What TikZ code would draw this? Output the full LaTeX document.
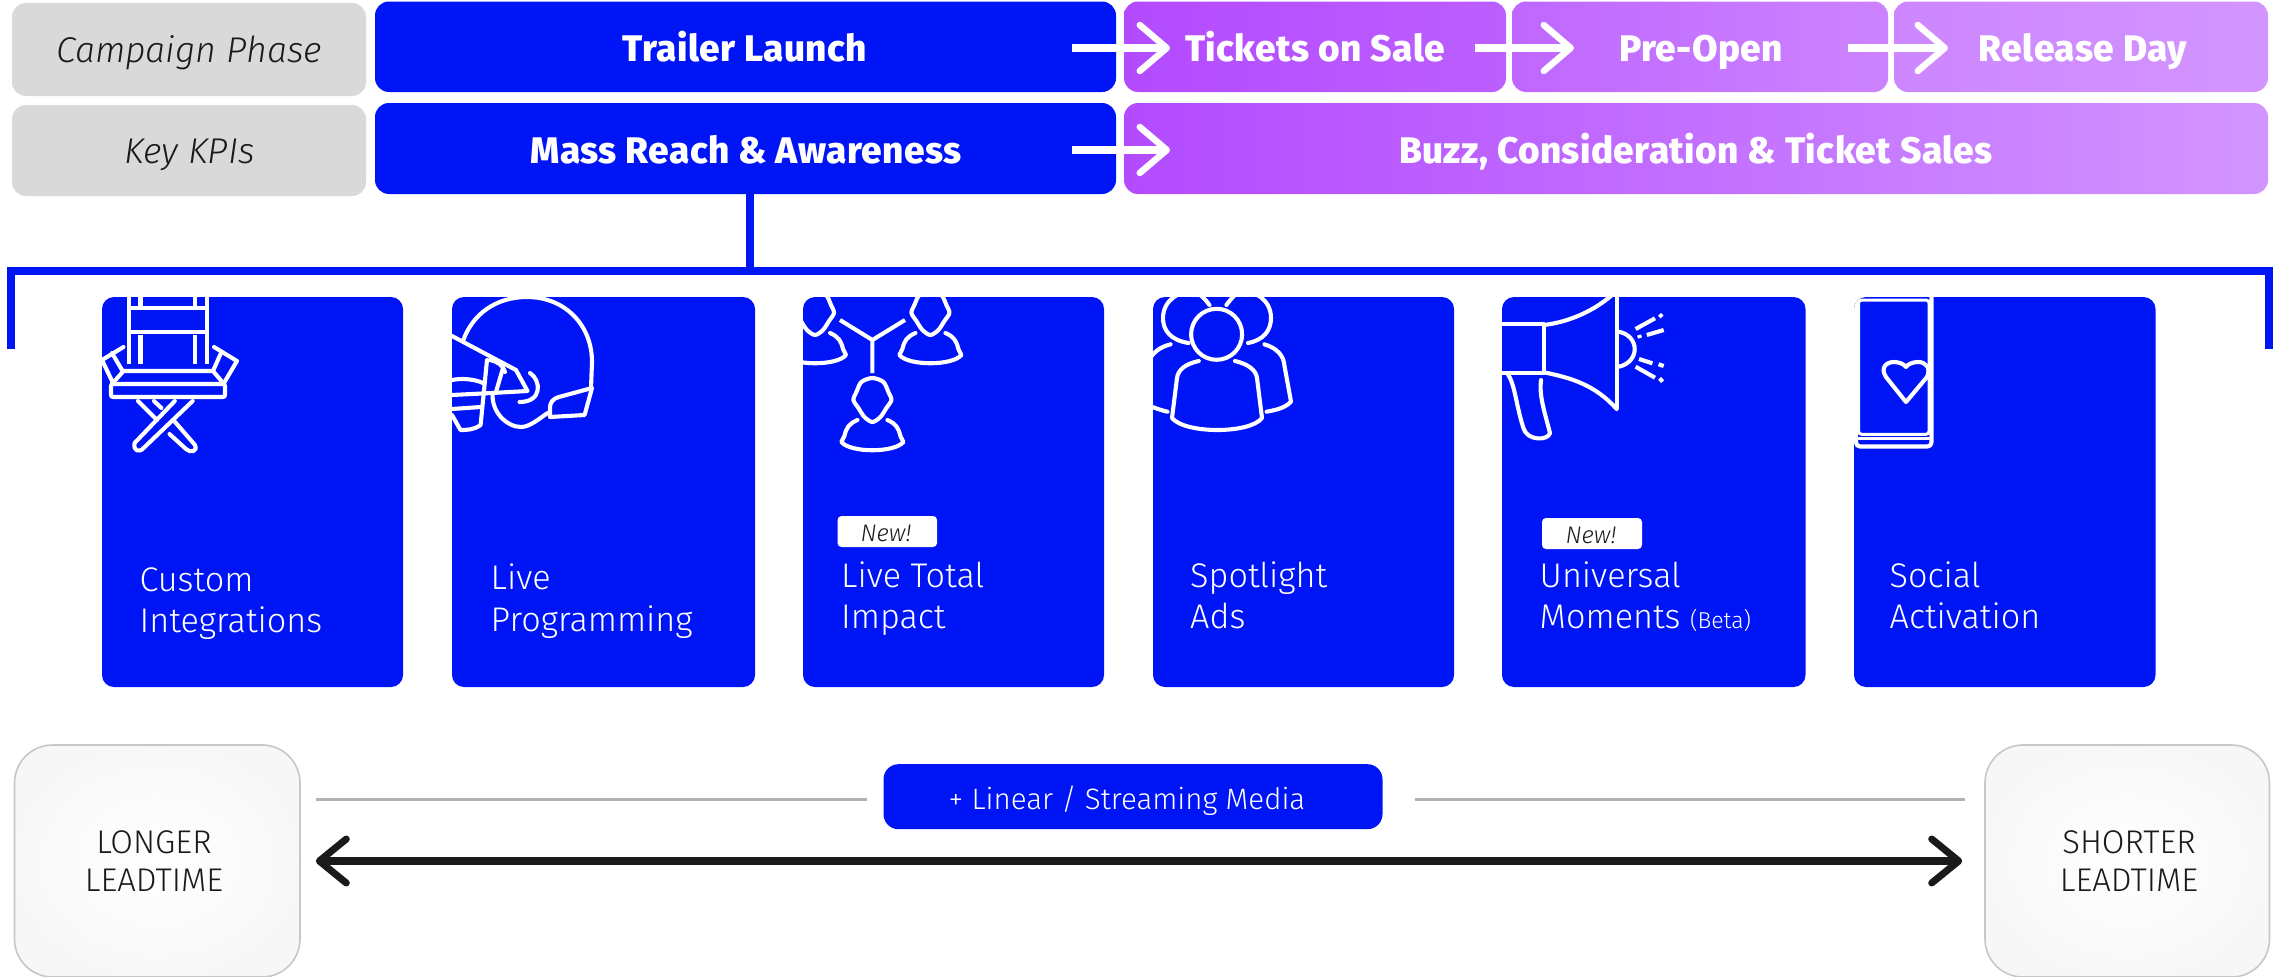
\documentclass[tikz,border=0pt]{standalone}
\usepackage{fontspec}
\usetikzlibrary{arrows.meta,calc}
\setmainfont{Fira Sans}
\newfontfamily\lightf{Fira Sans Light}[ItalicFont=Fira Sans Light Italic]
\newfontfamily\boldf{Fira Sans ExtraBold}[LetterSpace=1.2]
\definecolor{brandblue}{HTML}{0015F5}
\definecolor{labelgray}{HTML}{D9D9D9}
\definecolor{inkblack}{HTML}{1A1A1A}
\definecolor{purpleA}{HTML}{B34AFF}
\definecolor{purpleB}{HTML}{BC5FFF}
\definecolor{purpleC}{HTML}{BF67FF}
\definecolor{purpleD}{HTML}{CC83FF}
\definecolor{purpleE}{HTML}{CD86FF}
\definecolor{purpleF}{HTML}{D295FF}
\tikzset{
  x=1pt,y=-1pt,
  labelbox/.style={fill=labelgray,rounded corners=14pt,inner sep=0pt},
  bluebox/.style={fill=brandblue,rounded corners=14pt,inner sep=0pt},
  purplebox/.style={rounded corners=14pt,inner sep=0pt},
  cardbox/.style={fill=brandblue,rounded corners=12pt,inner sep=0pt},
  headtext/.style={text=white,inner sep=0pt,anchor=base,font=\boldf\fontsize{37}{42}\selectfont},
  labeltext/.style={text=inkblack,inner sep=0pt,anchor=base,font=\lightf\itshape\fontsize{35.8}{42}\selectfont},
  cardtext/.style={text=white,inner sep=0pt,anchor=base west,font=\lightf\fontsize{34.2}{41}\selectfont},
  newtag/.style={fill=white,rounded corners=4pt,inner sep=0pt},
  newtext/.style={text=inkblack,inner sep=0pt,anchor=base,font=\lightf\itshape\fontsize{24}{28}\selectfont},
  whitearrow/.style={draw=white,line width=8pt,-{Straight Barb[length=27pt,width=46pt,line width=6.5pt,round]}},
  blackarrow/.style={draw=inkblack,line width=8pt,{Straight Barb[length=27pt,width=44pt,line width=7pt,round]}-{Straight Barb[length=27pt,width=44pt,line width=7pt,round]}},
  stemline/.style={draw=brandblue,line width=8pt},
  grayline/.style={draw=black!30,line width=2.5pt},
  leadbox/.style={draw=black!22,line width=1.6pt,inner color=white,outer color=black!3,rounded corners=38pt,inner sep=0pt},
  leadtext/.style={text=inkblack,inner sep=0pt,anchor=base,font=\lightf\fontsize{32.8}{38}\selectfont},
  icon/.style={draw=white,line width=4.1pt,line join=round,line cap=round},
  person/.pic={
    \draw[icon] plot[smooth cycle] coordinates {(0,-22)(11,-18)(16,-8)(19,0)(14,8)(8,17)(0,22)(-8,17)(-14,8)(-19,0)(-16,-8)(-11,-18)};
    \draw[icon] (-15,20) .. controls (-24,24) and (-26,28) .. (-28,36) -- (-31,42) .. controls (-22,53) and (22,53) .. (31,42) -- (28,36) .. controls (26,28) and (24,24) .. (15,20);
  },
}
\begin{document}
\begin{tikzpicture}
\useasboundingbox (0,0) rectangle (2279,977);

% header boxes
\node[labelbox,minimum width=354pt,minimum height=93pt] (phaselabel) at (189,49.5) {};
\node[labelbox,minimum width=354pt,minimum height=91pt] (kpilabel) at (189,150.5) {};
\node[bluebox,minimum width=741pt,minimum height=90.5pt] (trailer) at (745.5,46.75) {};
\node[bluebox,minimum width=741pt,minimum height=91pt] (mass) at (745.5,148.5) {};
\node[purplebox,left color=purpleA,right color=purpleB,minimum width=382pt,minimum height=90.5pt] (tickets) at (1315,46.75) {};
\node[purplebox,left color=purpleC,right color=purpleD,minimum width=376pt,minimum height=90.5pt] (preopen) at (1700,46.75) {};
\node[purplebox,left color=purpleE,right color=purpleF,minimum width=374pt,minimum height=90.5pt] (release) at (2081,46.75) {};
\node[purplebox,left color=purpleA,right color=purpleF,minimum width=1144pt,minimum height=91pt] (buzz) at (1696,148.5) {};

\node[labeltext] (phasetext) at (189,62) {Campaign Phase};
\node[labeltext] (kpitext) at (189.5,163) {Key KPIs};
\node[headtext] (trailertext) at (745,61.5) {Trailer Launch};
\node[headtext] (masstext) at (746,163.5) {Mass Reach \& Awareness};
\node[headtext] (ticketstext) at (1315,61.5) {Tickets on Sale};
\node[headtext] (preopentext) at (1701,61.5) {Pre-Open};
\node[headtext] (releasetext) at (2083,61.5) {Release Day};
\node[headtext] (buzztext) at (1696,163.5) {Buzz, Consideration \& Ticket Sales};

% white arrows
\coordinate (a1s) at (1072,48); \coordinate (a1e) at (1170,48);
\coordinate (a2s) at (1475,48); \coordinate (a2e) at (1574,48);
\coordinate (a3s) at (1848,48); \coordinate (a3e) at (1948,48);
\coordinate (a4s) at (1072,150); \coordinate (a4e) at (1170,150);
\draw[whitearrow] (a1s) -- (a1e);
\draw[whitearrow] (a2s) -- (a2e);
\draw[whitearrow] (a3s) -- (a3e);
\draw[whitearrow] (a4s) -- (a4e);

% bracket
\coordinate (brL) at (11,349); \coordinate (brLt) at (11,271);
\coordinate (brR) at (2269,349); \coordinate (brRt) at (2269,271);
\coordinate (stemtop) at (750,194); \coordinate (stembot) at (750,271);
\draw[stemline] (stemtop) -- (stembot);
\draw[stemline,line join=miter] (brL) -- (brLt) -- (brRt) -- (brR);

% cards
\node[cardbox,minimum width=301pt,minimum height=390pt] (card1) at (252.5,492) {};
\node[cardbox,minimum width=303pt,minimum height=390pt] (card2) at (603.5,492) {};
\node[cardbox,minimum width=301pt,minimum height=390pt] (card3) at (953.5,492) {};
\node[cardbox,minimum width=301pt,minimum height=390pt] (card4) at (1303.5,492) {};
\node[cardbox,minimum width=303.5pt,minimum height=390pt] (card5) at (1653.75,492) {};
\node[cardbox,minimum width=301.5pt,minimum height=390pt] (card6) at (2004.75,492) {};

\node[cardtext] (t1a) at (139.5,591) {Custom};
\node[cardtext] (t1b) at (139.5,632) {Integrations};
\node[cardtext] (t2a) at (490.5,589) {Live};
\node[cardtext] (t2b) at (490.5,631) {Programming};
\node[cardtext] (t3a) at (841,587) {Live Total};
\node[cardtext] (t3b) at (841,628) {Impact};
\node[cardtext] (t4a) at (1190,587) {Spotlight};
\node[cardtext] (t4b) at (1190,628) {Ads};
\node[cardtext] (t5a) at (1539.5,587) {Universal};
\node[cardtext] (t5b) at (1539.5,628) {Moments {\fontsize{23}{26}\selectfont(Beta)}};
\node[cardtext] (t6a) at (1889.5,587) {Social};
\node[cardtext] (t6b) at (1889.5,628) {Activation};

\node[newtag,minimum width=99.5pt,minimum height=31pt] (new3) at (887.3,531.5) {};
\node[newtext] (new3t) at (886,541.7) {New!};
\node[newtag,minimum width=100pt,minimum height=31pt] (new5) at (1592,533.5) {};
\node[newtext] (new5t) at (1591,543) {New!};

% icon 1: director chair
\begin{scope}
\clip[rounded corners=12pt] (102,297) rectangle (403,687);
\draw[icon,line cap=butt] (129,297) -- (129,364) (207,297) -- (207,364);
\draw[icon,line cap=butt] (140.5,297) -- (140.5,308) (140.5,335) -- (140.5,364) (195,297) -- (195,308) (195,335) -- (195,364);
\draw[icon,line cap=butt] (129,308) -- (207,308) (129,332) -- (207,332);
\draw[icon] (112,384) -- (123.5,371) -- (213,371) -- (224,384);
\draw[icon,rounded corners=2pt] (111,384) rectangle (225,397);
\draw[icon] (123.5,347) -- (102,360) -- (113,383);
\draw[icon] (112,353) -- (122.6,371);
\draw[icon] (214,347) -- (237,361) -- (224,383);
\draw[icon] (221,353) -- (213,371);
\draw[icon] (192.7,401) -- (143.6,448) .. controls (139,453) and (133,451) .. (134.6,443) -- (174.8,401);
\draw[icon] (138,401) -- (157,420);
\draw[icon] (154,401) -- (161.4,408);
\draw[icon] (174.8,421.7) -- (195,445) .. controls (198,452) and (190,453) .. (186,449) -- (169.5,434);
\end{scope}

% icon 2: helmet
\begin{scope}
\clip[rounded corners=12pt] (452,297) rectangle (755,687);
\draw[icon] (463,341) .. controls (472,315) and (495,297) .. (527,297) .. controls (565,297) and (592,325) .. (592,362) -- (591,388);
\draw[icon] (452,336) -- (516,370) -- (527.5,391) -- (492,393) -- (452,395);
\draw[icon] (452,380) .. controls (462,378) and (474,379) .. (483,383);
\draw[icon] (452,409) -- (480.6,407);
\draw[icon] (487,360) -- (480.6,425) .. controls (474,430) and (466,430) .. (460.5,430) -- (452,415);
\draw[icon] (503,368) -- (496,392);
\draw[icon] (490,360) .. controls (498,362) and (503,365) .. (505,372);
\draw[icon] (530,373) .. controls (541,380) and (543,402) .. (519.5,402);
\draw[icon] (492.7,393) .. controls (491,412) and (507,427) .. (521,427) .. controls (530,427) and (540,418) .. (547.6,413);
\draw[icon] (592,388) -- (559,397) .. controls (552,399) and (550,403) .. (550,408) -- (550,417) -- (584.6,415) -- cycle;
\end{scope}

% icon 3: connected people
\begin{scope}
\clip[rounded corners=12pt] (803,297) rectangle (1104,687);
\pic at (815,313) {person};
\pic at (930.4,313) {person};
\pic at (872.4,400) {person};
\draw[icon,line cap=butt] (840,320) -- (872.4,340) -- (905,320) (872.4,340) -- (872.4,373);
\end{scope}

% icon 4: audience
\begin{scope}
\clip[rounded corners=12pt] (1153,297) rectangle (1454,687);
\draw[icon] (1216.6,334.3) circle[radius=25.5];
\draw[icon] (1198.8,361) .. controls (1185,364) and (1178,370) .. (1177,378) -- (1172,418) .. controls (1185,434) and (1250,434) .. (1262,418) -- (1257,378) .. controls (1256,370) and (1248,364) .. (1235,361);
\draw[icon] (1188.5,343) .. controls (1170,340) and (1163,330) .. (1163,318) .. controls (1163,300) and (1180,290) .. (1195,291) .. controls (1200,294) and (1206,300) .. (1209.5,305);
\draw[icon] (1248,343) .. controls (1264,340) and (1271,330) .. (1271,318) .. controls (1271,300) and (1255,290) .. (1240,291) .. controls (1235,294) and (1230,300) .. (1226.4,305);
\draw[icon] (1264.4,344.3) .. controls (1277,348) and (1284,356) .. (1284.5,366) -- (1291,401.7) .. controls (1285,408) and (1276,410) .. (1266.6,411.7);
\draw[icon] (1170.6,344.3) .. controls (1160,347) and (1153,352) .. (1148,362);
\draw[icon] (1150,406) .. controls (1155,408) and (1160,410) .. (1167.5,411.7);
\end{scope}

% icon 5: megaphone
\begin{scope}
\clip[rounded corners=12pt] (1502,297) rectangle (1805.5,687);
\draw[icon,line cap=butt] (1616.7,297) -- (1616.7,409);
\draw[icon] (1543.8,325) .. controls (1570,322) and (1595,310) .. (1612,295);
\draw[icon] (1543.8,372.3) .. controls (1572,378) and (1595,385) .. (1616.7,409);
\draw[icon] (1500,324.3) -- (1543.8,324.3) -- (1543.8,373) -- (1500,373);
\draw[icon] (1508,374.3) .. controls (1515,385) and (1516,405) .. (1523.4,428) .. controls (1527,441) and (1548,441) .. (1550,433) .. controls (1544,410) and (1539,395) .. (1541,380);
\draw[icon] (1618.8,331.7) .. controls (1640,336) and (1640,362) .. (1618.8,366.7);
\draw[icon,line cap=butt] (1635.6,329) -- (1655,318.3) (1659.6,314.3) -- (1662,317) (1646.8,335) -- (1663.7,330) (1639,335) -- (1640,338);
\draw[icon,line cap=butt] (1635.6,366.7) -- (1655,377.7) (1659.6,378.3) -- (1662.6,381.7) (1639,359) -- (1652.4,363.3) (1658.6,364.3) -- (1663.7,366);
\end{scope}

% icon 6: phone
\begin{scope}
\clip[rounded corners=12pt] (1854,297) rectangle (2155.5,687);
\draw[icon,rounded corners=4pt] (1856,290) rectangle (1931.5,446.5);
\draw[icon,line width=3pt,rounded corners=3pt] (1858.6,300) rectangle (1929,434.3);
\draw[icon] (1906,402) -- (1886,377) .. controls (1880,368) and (1886,362) .. (1894,362) .. controls (1899,362) and (1904,364) .. (1906,367) .. controls (1908,364) and (1913,362) .. (1918,362) .. controls (1926,362) and (1931,368) .. (1927,377) -- cycle;
\draw[icon,line width=3pt] (1858.6,438.5) -- (1929,438.5);
\end{scope}

% bottom row
\node[leadbox,minimum width=285.5pt,minimum height=232pt] (longer) at (157.25,861) {};
\node[leadbox,minimum width=284.5pt,minimum height=232pt] (shorter) at (2127.25,861) {};
\node[leadtext] (lt1) at (154,853) {LONGER};
\node[leadtext] (lt2) at (154,891) {LEADTIME};
\node[leadtext] (st1) at (2129,853) {SHORTER};
\node[leadtext] (st2) at (2129,891) {LEADTIME};
\node[cardbox,rounded corners=15pt,minimum width=499pt,minimum height=65pt] (pill) at (1133,796.7) {};
\node[text=white,inner sep=0pt,anchor=base,font=\lightf\fontsize{29.5}{36}\selectfont] (pilltext) at (1127,809) {+ Linear / Streaming Media};
\coordinate (glA) at (316,799.3);\coordinate (glB) at (867,799.3);
\coordinate (glC) at (1414.6,799.3);\coordinate (glD) at (1965,799.3);
\draw[grayline] (glA) -- (glB);
\draw[grayline] (glC) -- (glD);
\draw[blackarrow] ([xshift=15pt]longer.east) -- ([xshift=-22pt]shorter.west);
\end{tikzpicture}
\end{document}
